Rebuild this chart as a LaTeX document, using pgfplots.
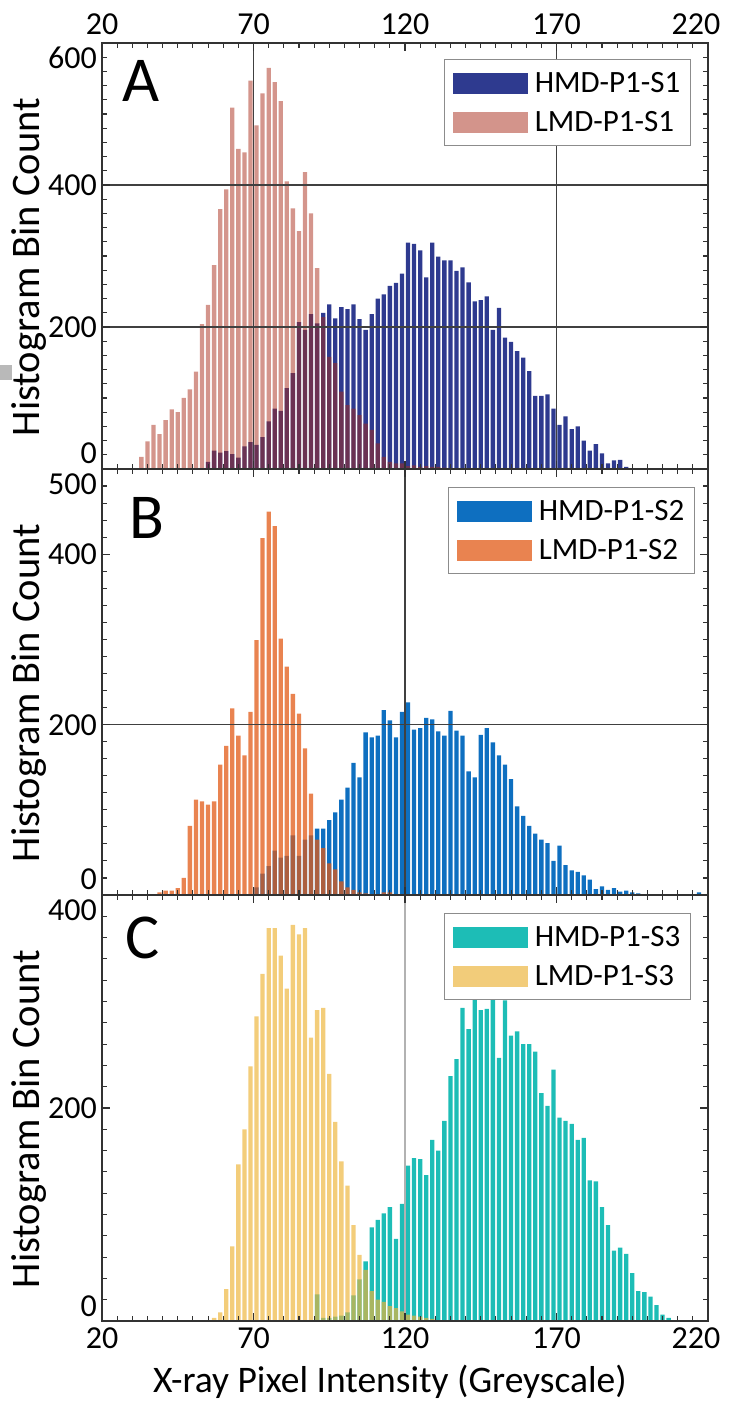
\documentclass[border=0pt]{standalone}
\usepackage{fontspec}
\setmainfont{Carlito}
\usepackage{pgfplots}
\pgfplotsset{compat=1.18}

\definecolor{blueA}{RGB}{46,58,143}
\definecolor{pinkA}{RGB}{169,43,25}
\definecolor{blueB}{RGB}{14,111,192}
\definecolor{orangeB}{RGB}{226,90,22}
\definecolor{tealC}{RGB}{29,189,182}
\definecolor{yellowC}{RGB}{237,180,57}
\definecolor{axgray}{RGB}{50,50,50}

\newcommand{\tb}[1]{\raisebox{5pt}[0pt][0pt]{#1}}
\newcommand{\tmid}[1]{\raisebox{-10.5pt}[0pt][0pt]{#1}}
\newcommand{\ttop}[1]{\raisebox{-25.5pt}[0pt][0pt]{#1}}

\tikzset{letter/.style={anchor=base west, font=\fontsize{64}{70}\selectfont, inner sep=0pt}}

\pgfplotsset{
  panel/.style={
    scale only axis, width=606pt, height=426pt,
    xmin=20, xmax=220, ymin=0,
    xtick={20,70,120,170,220},
    minor xtick={20,25,...,220},
    tick align=inside,
    major tick length=8pt, minor tick length=5pt,
    axis line style={line width=1.6pt, axgray},
    every tick/.style={axgray, line width=1.1pt},
    tick label style={font=\fontsize{32}{38}\selectfont},
    yticklabel style={anchor=east, inner sep=0pt, xshift=-5pt},
    axis on top,
    major grid style={black!75, line width=1.3pt},
    ylabel={Histogram Bin Count},
    ylabel style={font=\fontsize{40.5}{46}\selectfont, at={(axis description cs:-0.0908,0.474)}, anchor=south, inner sep=0pt},
    legend style={at={(1,1)}, anchor=north east, xshift=-17pt, yshift=-16pt, draw=black!45, line width=1.2pt, font=\fontsize{31}{36}\selectfont, row sep=13pt, inner xsep=8pt, inner ysep=11pt, nodes={inner sep=2pt}},
    legend cell align=left,
  },
  hb/.style={ybar, bar width=1.42, bar shift=0pt, draw=none},
  sw/.style={legend image code/.code={\fill[##1] (0pt,-10.5pt) rectangle (75pt,10.5pt); \path (80pt,0pt);}},
}

\begin{document}
\begin{tikzpicture}[x=1pt,y=1pt]
\useasboundingbox (0,0) rectangle (730,1401);
\fill[gray!55] (0,1021) rectangle (12,1036);

% ---------------- Panel A ----------------
\begin{axis}[panel, at={(102pt,932pt)}, anchor=south west,
  ymax=600, ytick={0,200,400,600},
  yticklabels={\tb{0},\tmid{200},\tmid{400},\ttop{600}},
  minor ytick={0,20,...,600},
  xticklabel pos=upper, xticklabels={20,70,120,170,\hspace*{-24pt}220},
  xticklabel style={anchor=south, inner sep=0pt, yshift=8pt},
  ymajorgrids, extra x ticks={70,170}, extra x tick labels={}, extra x tick style={grid=major},
]
\addplot[hb, fill=blueA, sw] coordinates {(55,10) (57,26) (59,23) (61,25) (63,21) (65,16) (67,32) (69,38) (71,34) (73,45) (75,67) (77,85) (79,82) (81,114) (83,135) (85,207) (87,196) (89,218) (91,205) (93,220) (95,232) (97,212) (99,228) (101,225) (103,232) (105,211) (107,196) (109,218) (111,240) (113,246) (115,258) (117,262) (119,275) (121,319) (123,317) (125,308) (127,270) (129,319) (131,299) (133,294) (135,294) (137,279) (139,284) (141,263) (143,236) (145,238) (147,243) (149,196) (151,227) (153,185) (155,179) (157,166) (159,157) (161,138) (163,103) (165,103) (167,105) (169,85) (171,62) (173,74) (175,56) (177,60) (179,40) (181,26) (183,35) (185,22) (187,8) (189,12) (191,13) (193,3)};
\addlegendentry{HMD-P1-S1}
\addplot[hb, fill=pinkA, fill opacity=0.5, sw] coordinates {(33,17) (35,39) (37,62) (39,49) (41,69) (43,84) (45,80) (47,100) (49,112) (51,137) (53,204) (55,231) (57,287) (59,366) (61,394) (63,509) (65,451) (67,446) (69,547) (71,484) (73,529) (75,565) (77,545) (79,518) (81,405) (83,367) (85,335) (87,418) (89,360) (91,283) (93,214) (95,158) (97,149) (99,109) (101,90) (103,85) (105,76) (107,64) (109,55) (111,36) (113,17) (115,10) (117,8) (119,8) (121,4) (123,5) (125,3) (127,4) (129,3) (131,3) (133,2)};
\addlegendentry{LMD-P1-S1}
\node[letter] at (rel axis cs:0.033,0.8615) {A};
\end{axis}

% ---------------- Panel B ----------------
\begin{axis}[panel, at={(102pt,506pt)}, anchor=south west,
  ymax=500, ytick={0,200,400,500},
  yticklabels={\tb{0},\tmid{200},\tmid{400},\ttop{500}},
  minor ytick={0,20,...,500},
  xticklabels={},
  extra x ticks={120}, extra x tick labels={}, extra x tick style={grid=major},
  extra y ticks={200}, extra y tick labels={}, extra y tick style={grid=major},
  legend style={yshift=-2pt, xshift=4pt},
]
\addplot[hb, fill=blueB, sw] coordinates {(71,9) (73,25) (75,34) (77,52) (79,44) (81,46) (83,70) (85,46) (87,65) (89,70) (91,78) (93,78) (95,88) (97,97) (99,112) (101,126) (103,155) (105,138) (107,191) (109,185) (111,187) (113,217) (115,205) (117,185) (119,215) (121,226) (123,194) (125,196) (127,208) (129,206) (131,192) (133,187) (135,216) (137,193) (139,187) (141,145) (143,138) (145,188) (147,196) (149,179) (151,164) (153,153) (155,136) (157,104) (159,93) (161,81) (163,72) (165,65) (167,61) (169,40) (171,58) (173,35) (175,29) (177,27) (179,23) (181,18) (183,7) (185,10) (187,6) (189,8) (191,4) (193,5) (195,3) (197,2) (217,3)};
\addlegendentry{HMD-P1-S2}
\addplot[hb, fill=orangeB, fill opacity=0.75, sw] coordinates {(39,3) (41,5) (43,5) (45,8) (47,20) (49,81) (51,112) (53,110) (55,106) (57,110) (59,153) (61,175) (63,219) (65,187) (67,164) (69,215) (71,299) (73,419) (75,450) (77,433) (79,301) (81,268) (83,236) (85,213) (87,172) (89,119) (91,65) (93,55) (95,37) (97,30) (99,16) (101,9) (103,6) (105,3) (107,2) (113,3) (115,3)};
\addlegendentry{LMD-P1-S2}
\node[letter] at (rel axis cs:0.045,0.836) {B};
\end{axis}

% ---------------- Panel C ----------------
\begin{axis}[panel, at={(102pt,80pt)}, anchor=south west,
  ymax=400, ytick={0,200,400},
  yticklabels={\tb{0},\tmid{200},\ttop{400}},
  minor ytick={0,20,...,400},
  xticklabels={20,70,120,170,\hspace*{-24pt}220},
  xticklabel style={anchor=north, inner sep=0pt, yshift=-7pt},
  xlabel={X-ray Pixel Intensity (Greyscale)},
  xlabel style={font=\fontsize{37.5}{44}\selectfont, at={(axis description cs:0.475,-0.1667)}, anchor=base, inner sep=0pt},
  extra x ticks={120}, extra x tick labels={}, extra x tick style={grid=major, major grid style={black!30, line width=1.3pt}},
  legend style={yshift=-2pt, xshift=0pt},
]
\addplot[hb, fill=tealC, sw] coordinates {(91,25) (93,3) (95,3) (97,4) (99,5) (101,8) (103,24) (105,39) (107,56) (109,88) (111,95) (113,101) (115,107) (117,77) (119,110) (121,146) (123,153) (125,152) (127,137) (129,170) (131,160) (133,188) (135,230) (137,246) (139,294) (141,274) (143,310) (145,292) (147,293) (149,312) (151,247) (153,301) (155,268) (157,272) (159,260) (161,260) (163,253) (165,214) (167,202) (169,236) (171,191) (173,188) (175,185) (177,170) (179,172) (181,132) (183,131) (185,107) (187,90) (189,66) (191,69) (193,63) (195,45) (197,28) (199,27) (201,23) (203,15) (205,6) (207,3)};
\addlegendentry{HMD-P1-S3}
\addplot[hb, fill=yellowC, fill opacity=0.67, sw] coordinates {(57,3) (59,8) (61,30) (63,70) (65,147) (67,180) (69,239) (71,286) (73,326) (75,369) (77,369) (79,343) (81,312) (83,372) (85,363) (87,369) (89,266) (91,292) (93,294) (95,232) (97,187) (99,150) (101,127) (103,90) (105,62) (107,48) (109,28) (111,20) (113,18) (115,14) (117,12) (119,9) (121,6) (123,5) (125,4) (127,3) (129,2)};
\addlegendentry{LMD-P1-S3}
\node[letter] at (rel axis cs:0.038,0.85) {C};
\end{axis}
\end{tikzpicture}
\end{document}
